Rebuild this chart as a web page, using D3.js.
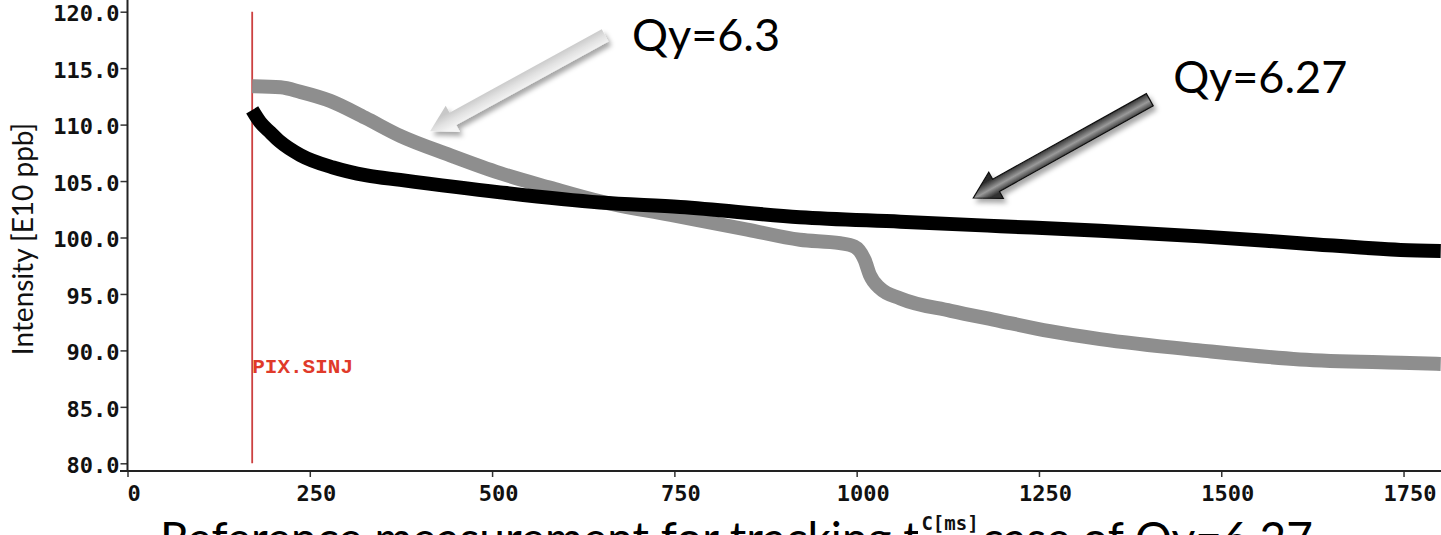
<!DOCTYPE html>
<html>
<head>
<meta charset="utf-8">
<script src="https://cdn.jsdelivr.net/npm/d3@7"></script>
<style>
  body { margin: 0; background: #fff; }
  svg { display: block; }
</style>
</head>
<body>
<div class="container"></div>
<script>
// Qy=6.27 (black) and Qy=6.3 (grey) intensity vs cycle time
const timeQy627 = [171, 182, 196, 209, 237, 282, 328, 374, 511, 648, 758, 922, 1060, 1197, 1334, 1471, 1608, 1746, 1801];
const intQy627  = [111.3, 110.2, 109.3, 108.5, 107.3, 106.2, 105.5, 105.1, 104.0, 103.1, 102.7, 101.8, 101.4, 101.0, 100.6, 100.1, 99.5, 98.9, 98.8];

const timeQy63 = [171, 210, 237, 278, 326, 374, 442, 511, 580, 648, 745, 850, 922, 977, 997, 1011, 1018, 1032, 1060, 1129, 1197, 1265, 1334, 1471, 1608, 1746, 1801];
const intQy63  = [113.4, 113.3, 112.9, 112.1, 110.6, 109.0, 107.3, 105.7, 104.4, 103.2, 102.0, 100.7, 99.8, 99.5, 99.2, 98.0, 96.7, 95.5, 94.6, 93.5, 92.6, 91.7, 91.0, 90.0, 89.2, 88.9, 88.8];

const xTicks = [0, 250, 500, 750, 1000, 1250, 1500, 1750];
const yTicks = [80, 85, 90, 95, 100, 105, 110, 115, 120];

const injTime = 171;   // PIX.SINJ marker

// annotation arrows in data coords: [tailT, tailV, tipT, tipV]
const arrow63  = [655, 117.9, 415, 109.4];
const arrow627 = [1402, 112.2, 1160, 103.5];

const w = 1441;
const h = 535;

const xScale = d3.scaleLinear().domain([0, 1800]).range([127.5, 1440]);
const yScale = d3.scaleLinear().domain([80, 120]).range([463.3, 11.7]);

const svg = d3.select(".container")
  .append("svg")
  .attr("width", w)
  .attr("height", h);

svg.append("rect").attr("width", w).attr("height", h).attr("fill", "#fff");

const defs = svg.append("defs");
defs.append("filter")
  .attr("id", "shadow")
  .attr("x", "-20%").attr("y", "-20%").attr("width", "140%").attr("height", "140%")
  .append("feDropShadow")
  .attr("dx", 3).attr("dy", 4).attr("stdDeviation", 2.5)
  .attr("flood-color", "#000").attr("flood-opacity", 0.35);

// axes
const axisFont = "'DejaVu Sans Mono', monospace";

const yAxis = d3.axisLeft(yScale)
  .tickValues(yTicks)
  .tickFormat(d3.format(".1f"))
  .tickSize(7)
  .tickPadding(1);

const gy = svg.append("g")
  .attr("transform", "translate(" + xScale(0) + ",0)")
  .call(yAxis);
gy.select(".domain").remove();
gy.append("line")
  .attr("x1", 0).attr("x2", 0)
  .attr("y1", 0).attr("y2", 471)
  .attr("stroke", "#222").attr("stroke-width", 2);
gy.selectAll(".tick line").attr("stroke", "#333").attr("stroke-width", 1.5);
gy.selectAll(".tick text")
  .attr("font-family", axisFont)
  .attr("font-weight", "bold")
  .attr("font-size", 22)
  .attr("fill", "#111")
  .attr("dy", "0.42em");

const xAxis = d3.axisBottom(xScale)
  .tickValues(xTicks)
  .tickFormat(d3.format("d"))
  .tickSize(6)
  .tickPadding(8);

const gx = svg.append("g")
  .attr("transform", "translate(0,471)")
  .call(xAxis);
gx.select(".domain").remove();
gx.append("line")
  .attr("x1", 120).attr("x2", w)
  .attr("y1", 0).attr("y2", 0)
  .attr("stroke", "#222").attr("stroke-width", 2);
gx.selectAll(".tick line").attr("stroke", "#333").attr("stroke-width", 1.5);
gx.selectAll(".tick text")
  .attr("font-family", axisFont)
  .attr("font-weight", "bold")
  .attr("font-size", 22)
  .attr("fill", "#111")
  .attr("dx", 6);

// slide caption, cut by the bottom edge
svg.append("text")
  .attr("x", 160)
  .attr("y", 555)
  .attr("font-family", "Lato, 'Open Sans', sans-serif")
  .attr("font-size", 46)
  .attr("fill", "#000")
  .text("Reference measurement for tracking the case of Qy=6.27");

svg.append("rect")
  .attr("x", 918).attr("y", 508).attr("width", 64).attr("height", 27)
  .attr("fill", "#fff");

svg.append("text")
  .attr("x", 950)
  .attr("y", 530)
  .attr("text-anchor", "middle")
  .attr("font-family", axisFont)
  .attr("font-weight", "bold")
  .attr("font-size", 19)
  .attr("fill", "#111")
  .text("C[ms]");

svg.append("text")
  .attr("transform", "translate(33,239) rotate(-90)")
  .attr("text-anchor", "middle")
  .attr("font-family", "Lato, 'Open Sans', sans-serif")
  .attr("font-size", 28)
  .attr("fill", "#111")
  .text("Intensity [E10 ppb]");

// injection marker
svg.append("line")
  .attr("x1", xScale(injTime)).attr("x2", xScale(injTime))
  .attr("y1", yScale(120)).attr("y2", yScale(80))
  .attr("stroke", "#cc4040").attr("stroke-width", 1.8);

svg.append("text")
  .attr("x", xScale(injTime))
  .attr("y", 373)
  .attr("font-family", "'Liberation Mono', 'Courier New', monospace")
  .attr("font-weight", "bold")
  .attr("font-size", 21)
  .attr("fill", "#e03a2a")
  .text("PIX.SINJ");

// series
const line = d3.line()
  .x((d) => xScale(d[0]))
  .y((d) => yScale(d[1]))
  .curve(d3.curveMonotoneX);

const dataQy63 = timeQy63.map((t, i) => [t, intQy63[i]]);
const dataQy627 = timeQy627.map((t, i) => [t, intQy627[i]]);

svg.append("path")
  .datum(dataQy63)
  .attr("d", line)
  .attr("fill", "none")
  .attr("stroke", "#8e8e8e")
  .attr("stroke-width", 14);

svg.append("path")
  .datum(dataQy627)
  .attr("d", line)
  .attr("fill", "none")
  .attr("stroke", "#000")
  .attr("stroke-width", 14);

// arrows
function arrowPoints(a, sw, hw, hl) {
  const x1 = xScale(a[0]), y1 = yScale(a[1]);
  const x2 = xScale(a[2]), y2 = yScale(a[3]);
  const len = Math.hypot(x2 - x1, y2 - y1);
  const ux = (x2 - x1) / len, uy = (y2 - y1) / len;
  const nx = -uy, ny = ux;
  const bx = x2 - ux * hl, by = y2 - uy * hl;
  return [
    [x1 + nx * sw, y1 + ny * sw],
    [bx + nx * sw, by + ny * sw],
    [bx + nx * hw, by + ny * hw],
    [x2, y2],
    [bx - nx * hw, by - ny * hw],
    [bx - nx * sw, by - ny * sw],
    [x1 - nx * sw, y1 - ny * sw]
  ];
}

function gradientFor(id, a, sw, stops) {
  const x1 = xScale(a[0]), y1 = yScale(a[1]);
  const x2 = xScale(a[2]), y2 = yScale(a[3]);
  const len = Math.hypot(x2 - x1, y2 - y1);
  const nx = -(y2 - y1) / len, ny = (x2 - x1) / len;
  const cx = (x1 + x2) / 2, cy = (y1 + y2) / 2;
  const g = defs.append("linearGradient")
    .attr("id", id)
    .attr("gradientUnits", "userSpaceOnUse")
    .attr("x1", cx - nx * sw).attr("y1", cy - ny * sw)
    .attr("x2", cx + nx * sw).attr("y2", cy + ny * sw);
  stops.forEach((s) => g.append("stop").attr("offset", s[0]).attr("stop-color", s[1]));
}

gradientFor("g63", arrow63, 8, [[0, "#f4f4f4"], [0.5, "#e2e2e2"], [1, "#c8c8c8"]]);
gradientFor("g627", arrow627, 8, [[0, "#333"], [0.45, "#9a9a9a"], [1, "#2a2a2a"]]);

svg.append("polygon")
  .attr("points", arrowPoints(arrow63, 7, 15, 26).map((p) => p.join(",")).join(" "))
  .attr("fill", "url(#g63)")
  .attr("filter", "url(#shadow)");

svg.append("polygon")
  .attr("points", arrowPoints(arrow627, 7, 15, 26).map((p) => p.join(",")).join(" "))
  .attr("fill", "url(#g627)")
  .attr("stroke", "#111")
  .attr("stroke-width", 1.2)
  .attr("filter", "url(#shadow)");

const labelFont = "Lato, 'Open Sans', sans-serif";
svg.append("text")
  .attr("x", xScale(692))
  .attr("y", 51)
  .attr("font-family", labelFont)
  .attr("font-size", 45)
  .attr("fill", "#000")
  .text("Qy=6.3");

svg.append("text")
  .attr("x", xScale(1434))
  .attr("y", 93)
  .attr("font-family", labelFont)
  .attr("font-size", 45)
  .attr("fill", "#000")
  .text("Qy=6.27");
</script>
</body>
</html>
